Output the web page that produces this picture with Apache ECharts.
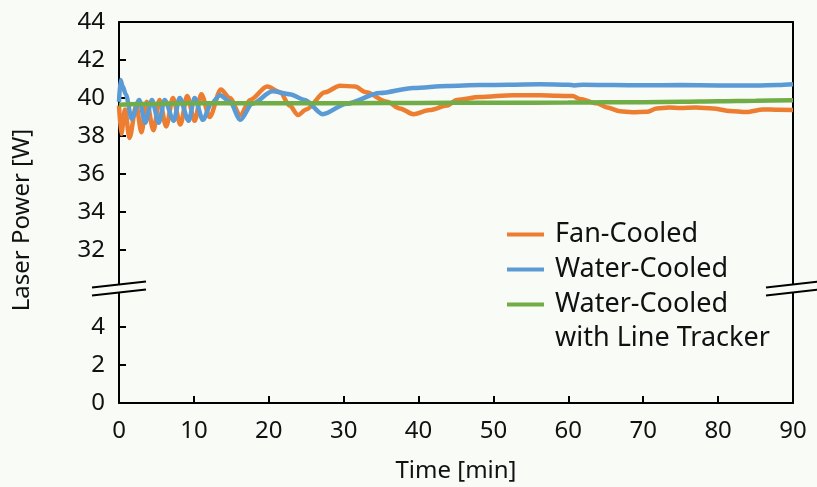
<!DOCTYPE html>
<html>
<head>
<meta charset="utf-8">
<script src="https://cdn.jsdelivr.net/npm/echarts@6/dist/echarts.min.js"></script>
<style>
  html, body { margin: 0; background: #f9fbf7; }
  #chart { width: 817px; height: 487px; }
</style>
</head>
<body>
<div id="chart"></div>
<script>
// readings taken off the plot, time in min / power in W
var fanTime = [0, 0.3, 0.8, 1.4, 2.3, 3.0, 3.7, 4.6, 5.4, 6.3, 7.2, 8.2, 9.1, 10.1, 11.0, 12.1, 13.6, 14.8, 16.2, 17.5,
  19.8, 21.5, 22.8, 23.9, 25.0, 27.5, 29.5, 31.5, 33.0, 35.8, 37.5, 39.3, 41.5, 43.8, 45.1, 48.2, 52.6, 56.2, 58.5, 60.6,
  61.5, 63.8, 65.2, 66.9, 68.5, 70.5, 71.8, 73.5, 74.9, 77.0, 79.3, 81.6, 83.8, 86.0, 88.0, 90.0];
var fanPower = [39.6, 38.1, 39.4, 37.9, 39.6, 38.2, 39.8, 38.3, 39.9, 38.5, 40.0, 38.6, 40.1, 38.8, 40.2, 39.0, 40.45, 40.0, 39.1, 39.9,
  40.6, 40.3, 39.6, 39.1, 39.4, 40.3, 40.65, 40.6, 40.3, 39.8, 39.45, 39.15, 39.37, 39.6, 39.9, 40.05, 40.15, 40.15, 40.12, 40.1,
  39.95, 39.72, 39.5, 39.3, 39.25, 39.27, 39.45, 39.5, 39.48, 39.5, 39.45, 39.32, 39.26, 39.4, 39.38, 39.37];

var waterTime = [0, 0.2, 0.5, 0.9, 1.7, 2.7, 3.5, 4.4, 5.3, 6.1, 7.3, 8.1, 9.3, 10.1, 11.2, 12.3, 13.5, 14.8, 16.2, 17.8,
  20.5, 22.8, 24.8, 27.2, 30.4, 34.8, 39.3, 43.8, 48.2, 52.0, 56.2, 60.0, 60.8, 62.0, 66.0, 70.0, 75.0, 80.0, 85.0, 88.0, 90.0];
var waterPower = [39.8, 40.95, 40.6, 40.2, 38.9, 39.9, 38.7, 39.9, 38.7, 39.9, 38.8, 40.0, 38.8, 40.0, 38.85, 39.7, 40.15, 39.8, 38.85, 39.7,
  40.35, 40.2, 39.9, 39.15, 39.7, 40.26, 40.53, 40.63, 40.68, 40.7, 40.72, 40.7, 40.66, 40.7, 40.68, 40.67, 40.68, 40.66, 40.66, 40.68, 40.72];

var trackerTime = [0, 5, 10, 20, 30, 40, 50, 60, 65, 70, 75, 80, 85, 90];
var trackerPower = [39.65, 39.7, 39.72, 39.72, 39.73, 39.74, 39.75, 39.76, 39.77, 39.78, 39.8, 39.83, 39.86, 39.88];

var xTicks = [0, 10, 20, 30, 40, 50, 60, 70, 80, 90];
var upperTicks = [32, 34, 36, 38, 40, 42, 44];
var lowerTicks = [0, 2, 4];

var FONT = 'Noto Sans';
var BG = '#f9fbf7';
var INK = '#111';

function pairs(ts, vs) {
  return ts.map(function (t, i) { return [t, vs[i]]; });
}

var chart = echarts.init(document.getElementById('chart'));

var frame = { show: true, onZero: false, lineStyle: { color: '#000', width: 2 } };
var tick = { show: true, inside: true, length: 7, lineStyle: { color: '#000', width: 2 } };
var lbl = { fontFamily: FONT, fontSize: 24, color: INK };

function yLabel(list) {
  return Object.assign({}, lbl, {
    margin: 14,
    formatter: function (v) { return list.indexOf(v) >= 0 ? String(v) : ''; }
  });
}

var option = {
  backgroundColor: BG,
  animation: false,
  grid: [
    { left: 119, right: 24, top: 22, height: 266 },
    { left: 119, right: 24, top: 289, height: 114 }
  ],
  xAxis: [
    {
      gridIndex: 0, type: 'value', min: 0, max: 90, position: 'top',
      axisLine: frame, axisTick: { show: false }, axisLabel: { show: false }, splitLine: { show: false }
    },
    {
      gridIndex: 1, type: 'value', min: 0, max: 90, interval: 10, position: 'bottom',
      axisLine: frame, axisTick: tick, splitLine: { show: false },
      axisLabel: Object.assign({}, lbl, {
        margin: 16,
        formatter: function (v) { return xTicks.indexOf(v) >= 0 ? String(v) : ''; }
      }),
      name: 'Time [min]', nameLocation: 'middle', nameGap: 56,
      nameTextStyle: { fontFamily: FONT, fontSize: 24, color: INK }
    }
  ],
  yAxis: [
    {
      gridIndex: 0, type: 'value', min: 30, max: 44, interval: 2, position: 'left',
      axisLine: frame, axisTick: tick, axisLabel: yLabel(upperTicks), splitLine: { show: false }
    },
    {
      gridIndex: 0, type: 'value', min: 30, max: 44, interval: 2, position: 'right',
      axisLine: frame, axisTick: { show: false }, axisLabel: { show: false }, splitLine: { show: false }
    },
    {
      gridIndex: 1, type: 'value', min: 0, max: 6, interval: 2, position: 'left',
      axisLine: frame, axisTick: tick, axisLabel: yLabel(lowerTicks), splitLine: { show: false }
    },
    {
      gridIndex: 1, type: 'value', min: 0, max: 6, interval: 2, position: 'right',
      axisLine: frame, axisTick: { show: false }, axisLabel: { show: false }, splitLine: { show: false }
    }
  ],
  legend: {
    orient: 'vertical', left: 507, top: 221, padding: 0,
    icon: 'rect', itemWidth: 37, itemHeight: 4, itemGap: 8,
    textStyle: { fontFamily: FONT, fontSize: 27, color: INK, padding: [0, 0, 0, 6] },
    formatter: function (name) {
      return name === 'Water-Cooled with Line Tracker' ? 'Water-Cooled' : name;
    }
  },
  series: [
    {
      name: 'Fan-Cooled', type: 'line', xAxisIndex: 0, yAxisIndex: 0,
      data: pairs(fanTime, fanPower), showSymbol: false, smooth: 0.3, smoothMonotone: 'x',
      color: '#ED7D31', lineStyle: { width: 4.5 }
    },
    {
      name: 'Water-Cooled', type: 'line', xAxisIndex: 0, yAxisIndex: 0,
      data: pairs(waterTime, waterPower), showSymbol: false, smooth: 0.3, smoothMonotone: 'x',
      color: '#5B9BD5', lineStyle: { width: 4.5 }
    },
    {
      name: 'Water-Cooled with Line Tracker', type: 'line', xAxisIndex: 0, yAxisIndex: 0,
      data: pairs(trackerTime, trackerPower), showSymbol: false, smooth: 0.3, smoothMonotone: 'x',
      color: '#70AD47', lineStyle: { width: 4.5 }
    }
  ]
};

chart.setOption(option);

// axis break marks "//" on both frame sides, placed from the axes
var xl = chart.convertToPixel({ xAxisIndex: 1 }, 0);
var xr = chart.convertToPixel({ xAxisIndex: 1 }, 90);
var cy = (chart.convertToPixel({ yAxisIndex: 0 }, 30) + chart.convertToPixel({ yAxisIndex: 2 }, 6)) / 2;

function breakMark(cx) {
  var w = 27, k = 0.11, h = 4;
  var lineSt = { stroke: '#000', lineWidth: 2 };
  return [
    {
      type: 'polygon', z: 100,
      shape: { points: [[cx - w, cy - h + w * k], [cx + w, cy - h - w * k], [cx + w, cy + h - w * k], [cx - w, cy + h + w * k]] },
      style: { fill: BG }
    },
    { type: 'line', z: 101, shape: { x1: cx - w, y1: cy - h + w * k, x2: cx + w, y2: cy - h - w * k }, style: lineSt },
    { type: 'line', z: 101, shape: { x1: cx - w, y1: cy + h + w * k, x2: cx + w, y2: cy + h - w * k }, style: lineSt }
  ];
}

chart.setOption({
  graphic: breakMark(xl).concat(breakMark(xr)).concat([
    {
      type: 'text', x: 22, y: 220, rotation: Math.PI / 2, z: 100,
      style: { text: 'Laser Power [W]', font: '24px "Noto Sans"', fill: INK, align: 'center', verticalAlign: 'middle' }
    },
    {
      type: 'text', x: 555, y: 338, z: 100,
      style: { text: 'with Line Tracker', font: '27px "Noto Sans"', fill: INK, align: 'left', verticalAlign: 'middle' }
    }
  ])
});
</script>
</body>
</html>
